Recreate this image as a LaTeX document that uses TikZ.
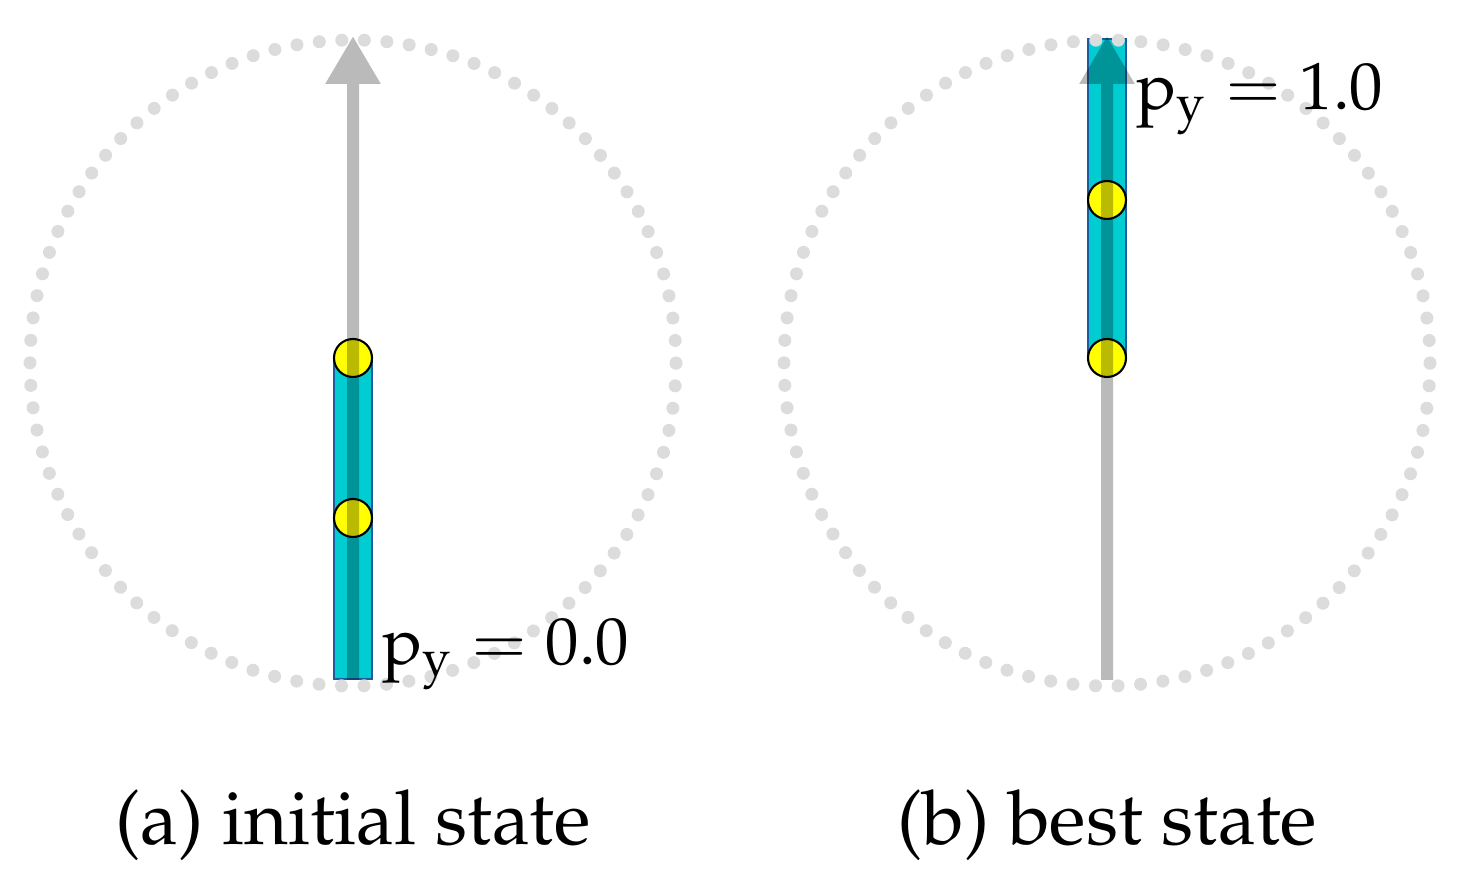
\documentclass[tikz,border=0pt]{standalone}
\usepackage[T1]{fontenc}
\usepackage{mathpazo}
\usepackage{tikz}
\usetikzlibrary{arrows.meta, positioning}
\definecolor{dotgray}{RGB}{220,220,220}
\definecolor{barcyan}{RGB}{0,204,210}
\definecolor{barblue}{RGB}{30,90,160}
\definecolor{ballyellow}{RGB}{255,255,0}
\tikzset{
  bar/.style={rectangle, draw=barblue, fill=barcyan, line width=0.6pt,
    minimum width=0.38cm, inner sep=0pt},
  ball/.style={circle, draw=black, fill=ballyellow, line width=0.6pt,
    minimum size=0.38cm, inner sep=0pt},
  ring/.style={dotgray, line width=0.13cm, line cap=round,
    dash pattern=on 0pt off 0.2255cm},
  spine/.style={-{Triangle[width=0.52cm, length=0.48cm]}, line width=0.12cm,
    draw=black},
  pylabel/.style={font=\fontsize{19}{23}\selectfont, inner sep=0pt},
  caption/.style={font=\fontsize{21.5}{26}\selectfont, inner sep=0pt}
}
\begin{document}
\begin{tikzpicture}
  \useasboundingbox (0,0) rectangle (14.63,8.69);
  % (a) initial state
  \node[bar, minimum height=3.22cm, anchor=south] (barA) at (3.53,1.89) {};
  \node[ball] (ballA1) at (3.53,5.11) {};
  \node[ball] (ballA2) at (3.53,3.51) {};
  \draw[ring] (3.53,5.06) circle (3.23);
  \coordinate (footA) at (3.53,1.89);
  \coordinate (tipA) at (3.53,8.33);
  \begin{scope}[transparency group, opacity=0.27]
    \draw[spine] (footA) -- (tipA);
  \end{scope}
  \node[pylabel, anchor=base west] (pyA) at (3.82,2.04) {$\mathrm{p_y} = 0.0$};
  \node[caption, anchor=base] (capA) at (3.53,0.24) {(a) initial state};
  % (b) best state
  \node[bar, minimum height=3.20cm, anchor=south] (barB) at (11.07,5.09) {};
  \node[ball] (ballB1) at (11.07,6.69) {};
  \node[ball] (ballB2) at (11.07,5.11) {};
  \draw[ring] (11.07,5.06) circle (3.23);
  \coordinate (footB) at (11.07,1.89);
  \coordinate (tipB) at (11.07,8.33);
  \begin{scope}[transparency group, opacity=0.27]
    \draw[spine] (footB) -- (tipB);
  \end{scope}
  \node[pylabel, anchor=base west] (pyB) at (11.36,7.59) {$\mathrm{p_y} = 1.0$};
  \node[caption, anchor=base] (capB) at (11.07,0.24) {(b) best state};
\end{tikzpicture}
\end{document}
